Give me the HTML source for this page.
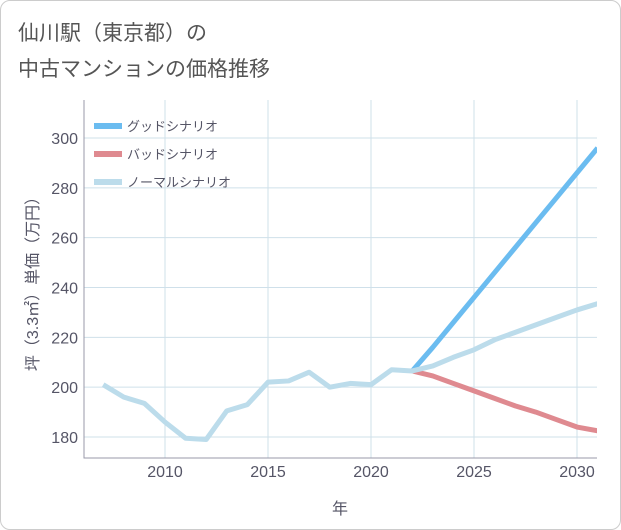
<!DOCTYPE html>
<html><head><meta charset="utf-8"><style>
body{margin:0;background:#fff;font-family:"Liberation Sans","Noto Sans CJK JP",sans-serif;}
.card{position:absolute;left:0;top:0;width:619px;height:528px;border:1px solid #ccc;border-radius:10px;background:#fff;}
</style></head><body>
<div class="card"></div>
<svg id="c" width="621" height="530" style="position:absolute;left:0;top:0">
<text x="18" y="40" font-size="21" fill="#555">仙川駅（東京都）の</text>
<text x="18" y="76" font-size="21" fill="#555">中古マンションの価格推移</text>
</svg>
<script>
const years=[2007,2008,2009,2010,2011,2012,2013,2014,2015,2016,2017,2018,2019,2020,2021,2022,2023,2024,2025,2026,2027,2028,2029,2030,2031];
const normal=[201,196,193.5,186,179.5,179,190.5,193,202,202.5,206,200,201.5,201,207,206.5,208.5,212,215,219,222,225,228,231,233.5];
const fYears=[2022,2023,2024,2025,2026,2027,2028,2029,2030,2031];
const good=[206.5,216,226,236,246,256,266,276,286,296];
const bad=[206.5,204.5,201.5,198.5,195.5,192.5,190,187,184,182.5];
const xTicks=[2010,2015,2020,2025,2030];
const yTicks=[180,200,220,240,260,280,300];
const L=84,R=597,T=100,B=458;
const x=v=>165+(v-2010)*20.6;
const y=v=>437-(v-180)*2.4917;
const s=document.getElementById('c');const NS='http://www.w3.org/2000/svg';
function el(t,a,txt){const e=document.createElementNS(NS,t);for(const k in a)e.setAttribute(k,a[k]);if(txt!=null)e.textContent=txt;s.appendChild(e);return e;}
xTicks.forEach(t=>{const g=el('line',{x1:x(t),x2:x(t),y1:T,y2:B,stroke:'#cfe0ea'});
const l=el('text',{x:x(t),y:477,'text-anchor':'middle','font-size':16,fill:'#556'},t);});
yTicks.forEach(t=>{const g=el('line',{x1:L,x2:R,y1:y(t),y2:y(t),stroke:'#cfe0ea'});
const l=el('text',{x:78,y:y(t)+6,'text-anchor':'end','font-size':16,fill:'#556'},t);});
const ax=el('path',{d:`M${L},${T}V${B}H${R}`,fill:'none',stroke:'#99a'});
const xt=el('text',{x:340,y:514,'text-anchor':'middle','font-size':16,fill:'#556'},'年');
const yt=el('text',{transform:'translate(38,280) rotate(-90)','text-anchor':'middle','font-size':16,fill:'#556'},'坪（3.3㎡）単価（万円）');
function line(xs,vs,c,n){const p=el('polyline',{points:xs.map((v,i)=>x(v)+','+y(vs[i])).join(' '),fill:'none',stroke:c,'stroke-width':5,'stroke-linejoin':'round'});}
const cp=el('clipPath',{id:'cp'});const cr=document.createElementNS(NS,'rect');cr.setAttribute('x',L);cr.setAttribute('y',T);cr.setAttribute('width',R-L);cr.setAttribute('height',B-T);cp.appendChild(cr);
line(fYears,good,'#6bbcf0','good-scenario-line');
line(fYears,bad,'#df8a90','bad-scenario-line');
line(years,normal,'#bcdceb','normal-scenario-line');
s.querySelectorAll('polyline').forEach(p=>p.setAttribute('clip-path','url(#cp)'));
[['グッドシナリオ','#6bbcf0',126],['バッドシナリオ','#df8a90',154],['ノーマルシナリオ','#bcdceb',182]].forEach((d,i)=>{
const r=el('rect',{x:94,y:d[2]-3,width:28,height:6,fill:d[1]});
const t=el('text',{x:127,y:d[2]+5,'font-size':13,fill:'#556'},d[0]);});
</script>
</body></html>
